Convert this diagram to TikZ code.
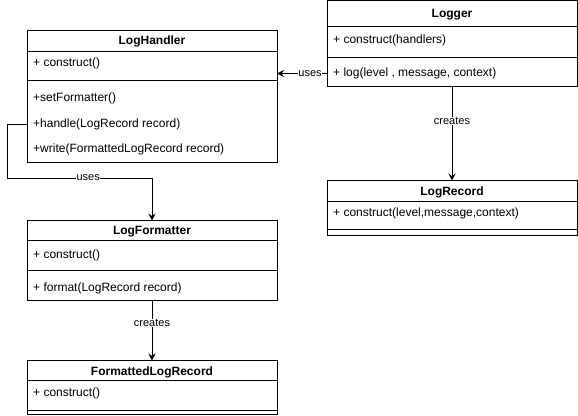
\documentclass[tikz,border=0pt]{standalone}
\usepackage{fontspec}
\setmainfont{Liberation Sans}
\usetikzlibrary{arrows.meta}
\begin{document}
\begin{tikzpicture}[x=1pt,y=-1pt,
 cls/.style={draw, line width=1pt, anchor=north west, minimum width=250pt, inner sep=0pt, outer sep=0pt},
 ttl/.style={font=\fontsize{12}{14}\selectfont\bfseries, anchor=center, inner sep=0pt},
 mem/.style={font=\fontsize{12}{14}\selectfont, anchor=west, inner sep=0pt},
 sepline/.style={line width=1pt},
 conn/.style={line width=1pt, -{Stealth[length=7pt,width=7pt,inset=2.5pt]}},
 lbl/.style={font=\fontsize{11}{13}\selectfont, fill=white, inner sep=0.5pt}]
\useasboundingbox (0,0) rectangle (578,415);

% LogHandler
\node[cls, minimum height=131.5pt] (lh) at (27,30.5) {};
\draw[sepline] (27,51) -- (277,51);
\draw[sepline] (27,80) -- (277,80);
\node[ttl] (lht) at (152,41.5) {LogHandler};
\node[mem] (lhc) at (33,63.5) {+ construct()};
\node[mem] (lhs) at (33,98.5) {+setFormatter()};
\node[mem] (lhh) at (33,124.5) {+handle(LogRecord record)};
\node[mem] (lhw) at (33,149.5) {+write(FormattedLogRecord record)};

% Logger
\node[cls, minimum height=86pt] (lg) at (327,0.5) {};
\draw[sepline] (327,26) -- (577,26);
\draw[sepline] (327,57) -- (577,57);
\node[ttl] (lgt) at (452,14.5) {Logger};
\node[mem] (lgc) at (333,40.5) {+ construct(handlers)};
\node[mem] (lgl) at (333,73.5) {+ log(level , message, context)};

% LogRecord
\node[cls, minimum height=54.5pt] (lr) at (327,180.5) {};
\draw[sepline] (327,201) -- (577,201);
\draw[sepline] (327,229) -- (577,229);
\node[ttl] (lrt) at (452,192.5) {LogRecord};
\node[mem] (lrc) at (333,213.5) {+ construct(level,message,context)};

% LogFormatter
\node[cls, minimum height=79.5pt] (lf) at (27,220.5) {};
\draw[sepline] (27,240) -- (277,240);
\draw[sepline] (27,270.5) -- (277,270.5);
\node[ttl] (lft) at (152,231.5) {LogFormatter};
\node[mem] (lfc) at (33,255.5) {+ construct()};
\node[mem] (lff) at (33,288.5) {+ format(LogRecord record)};

% FormattedLogRecord
\node[cls, minimum height=53.5pt] (fr) at (27,360.5) {};
\draw[sepline] (27,380) -- (277,380);
\draw[sepline] (27,410) -- (277,410);
\node[ttl] (frt) at (152,372.5) {FormattedLogRecord};
\node[mem] (frc) at (33,393.5) {+ construct()};

% connectors
\draw[conn] (lg.west |- lgl) -- node[lbl, pos=0.34] {uses} (lh.east |- lgl);
\draw[conn] (lg.south) -- node[lbl, pos=0.37] {creates} (lr.north);
\coordinate (bend) at (7,178);
\draw[conn] (lh.west |- lhh) -| (bend) -- node[lbl, pos=0.56] {uses} (bend -| lf.north) -- (lf.north);
\draw[conn] (lf.south) -- node[lbl, pos=0.38] {creates} (fr.north);
\end{tikzpicture}
\end{document}
